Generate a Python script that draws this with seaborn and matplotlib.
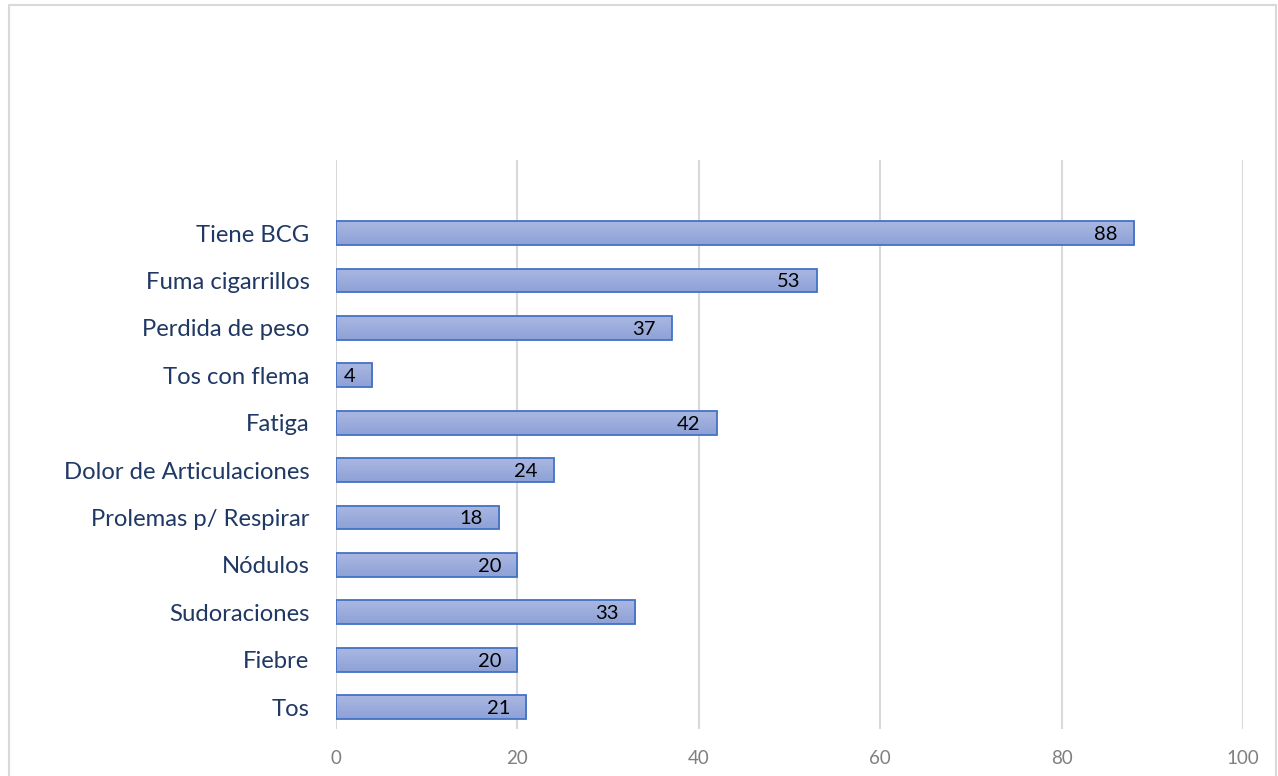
import numpy as np
import pandas as pd
import matplotlib
matplotlib.use("Agg")
import matplotlib.pyplot as plt
import seaborn as sns
from matplotlib.patches import Rectangle
from matplotlib.colors import LinearSegmentedColormap

# data, top to bottom as shown
categories = ["Tiene BCG", "Fuma cigarrillos", "Perdida de peso", "Tos con flema",
              "Fatiga", "Dolor de Articulaciones", "Prolemas p/ Respirar",
              "Nódulos", "Sudoraciones", "Fiebre", "Tos"]
values = [88, 53, 37, 4, 42, 24, 18, 20, 33, 20, 21]
x_ticks = [0, 20, 40, 60, 80, 100]

df = pd.DataFrame({"cat": categories, "val": values})

sns.set_style("white")
plt.rcParams["font.family"] = ["Lato", "DejaVu Sans"]

fig = plt.figure(figsize=(12.78, 7.76), dpi=100)
ax = fig.add_axes([0.2629, 0.0606, 0.7097, 0.7332])

sns.barplot(data=df, x="val", y="cat", orient="h", color="#9DAEDD",
            edgecolor="#4472C4", linewidth=1.3, width=0.5, ax=ax, zorder=3)

# vertical gradient fill like the original bars
cmap = LinearSegmentedColormap.from_list("bar", ["#AAB7E1", "#8DA1D7"])
grad = np.linspace(0, 1, 64).reshape(-1, 1)
for p in ax.patches:
    x0, y0 = p.get_x(), p.get_y()
    w, h = p.get_width(), p.get_height()
    im = ax.imshow(grad, cmap=cmap, aspect="auto", origin="upper",
                   extent=[x0, x0 + w, y0 + h, y0], zorder=3.5)
    im.set_clip_path(p)
    p.set_facecolor("none")
    p.set_zorder(4)

for i, v in enumerate(values):
    ax.text(v - 1.8, i + 0.03, str(v), ha="right", va="center", fontsize=14.5,
            color="black", zorder=5)

ax.set_xlim(0, 100)
ax.set_ylim(10.46, -1.54)
ax.set_xticks(x_ticks)
ax.set_xticklabels([str(t) for t in x_ticks], color="#7F7F7F", fontsize=13.5)
ax.tick_params(axis="x", length=0, pad=15)
ax.tick_params(axis="y", length=0, pad=19, labelsize=17.2, labelcolor="#1F3864")
ax.xaxis.grid(True, color="#D9D9D9", linewidth=1.5, zorder=0)
ax.set_axisbelow(True)
ax.set_xlabel("")
ax.set_ylabel("")
for s in ax.spines.values():
    s.set_visible(False)

# outer chart frame
fig.patches.append(Rectangle((9 / 1278, -0.01), 1267 / 1278, 1 - 5 / 776 + 0.01,
                             transform=fig.transFigure, fill=False,
                             edgecolor="#D9D9D9", linewidth=1.5))

fig.savefig("out.png", dpi=100)
